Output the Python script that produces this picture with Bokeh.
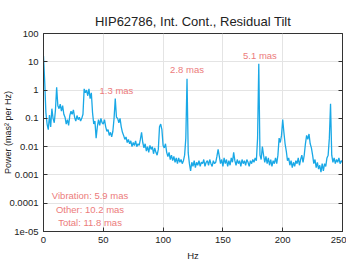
from bokeh.plotting import figure
from bokeh.models import FixedTicker, LogAxis, Range1d, ColumnDataSource
from bokeh.core.properties import value
from bokeh.embed import file_html
from bokeh.resources import INLINE

freq_hz = list(range(0, 251))
power = [
    16, 2.0, 0.16, 0.063, 0.04, 0.13, 0.05, 0.22, 0.1, 0.07,
    0.2, 1.26, 0.28, 0.22, 0.32, 0.18, 0.28, 0.14, 0.11, 0.063,
    0.09, 0.056, 0.126, 0.18, 0.14, 0.2, 0.11, 0.08, 0.126, 0.09,
    0.11, 0.08, 0.1, 0.14, 1.1, 0.8, 1.0, 0.63, 1.1, 0.5,
    0.8, 0.16, 0.063, 0.08, 0.02, 0.05, 0.09, 0.056, 0.1, 0.07,
    0.063, 0.09, 0.05, 0.035, 0.04, 0.025, 0.032, 0.022, 0.035, 0.1,
    0.5, 0.11, 0.1, 0.07, 0.1, 0.05, 0.032, 0.025, 0.018, 0.022,
    0.014, 0.018, 0.0126, 0.016, 0.01, 0.014, 0.011, 0.016, 0.01, 0.0126,
    0.011, 0.018, 0.032, 0.014, 0.009, 0.0126, 0.007, 0.01, 0.0063, 0.011,
    0.008, 0.01, 0.0056, 0.009, 0.0063, 0.005, 0.008, 0.05, 0.063, 0.04,
    0.011, 0.009, 0.0126, 0.0063, 0.0045, 0.0063, 0.0035, 0.005, 0.0032, 0.0045,
    0.0028, 0.004, 0.0025, 0.004, 0.0028, 0.0035, 0.0025, 0.0032, 0.005, 0.02,
    2.5, 0.006, 0.0025, 0.0014, 0.0028, 0.002, 0.0032, 0.0018, 0.0028, 0.0022,
    0.0032, 0.002, 0.0028, 0.0025, 0.0035, 0.002, 0.0028, 0.0032, 0.0022, 0.0035,
    0.0025, 0.002, 0.0032, 0.0025, 0.0028, 0.0045, 0.008, 0.0045, 0.0025, 0.0035,
    0.002, 0.004, 0.0025, 0.0035, 0.002, 0.0032, 0.0022, 0.004, 0.0028, 0.0063,
    0.0032, 0.0022, 0.0035, 0.0025, 0.0032, 0.002, 0.0035, 0.0025, 0.0032, 0.0022,
    0.0035, 0.0028, 0.002, 0.0032, 0.0025, 0.0035, 0.0028, 0.004, 0.0032, 0.02,
    8.5, 0.005, 0.0035, 0.01, 0.005, 0.0028, 0.0045, 0.0025, 0.004, 0.0022,
    0.0035, 0.002, 0.0032, 0.0025, 0.004, 0.0025, 0.005, 0.02, 0.014, 0.025,
    0.09, 0.032, 0.0126, 0.007, 0.0032, 0.004, 0.0022, 0.0032, 0.0018, 0.0028,
    0.002, 0.0032, 0.0025, 0.004, 0.0022, 0.0035, 0.005, 0.0028, 0.005, 0.0126,
    0.025, 0.018, 0.028, 0.0126, 0.009, 0.005, 0.0025, 0.0035, 0.0018, 0.0028,
    0.0016, 0.0022, 0.00126, 0.0025, 0.0014, 0.0025, 0.002, 0.004, 0.005, 0.02,
    0.33, 0.005, 0.0028, 0.004, 0.0025, 0.0035, 0.0028, 0.004, 0.0025, 0.0032,
    0.0028,
]

x_ticks = [0, 50, 100, 150, 200, 250]
y_ticks = [100, 10, 1, 0.1, 0.01, 0.001, 0.0001, 1e-05]
y_tick_labels = ["100", "10", "1", "0.1", "0.01", "0.001", "0.0001", "1e-05"]

peak_freqs = [61, 120, 181]
peak_levels = [1.0, 5.4, 17.0]
peak_labels = ["1.3 mas", "2.8 mas", "5.1 mas"]

summary_freqs = [40, 40, 40]
summary_levels = [1.86e-4, 6.2e-5, 2.0e-5]
summary_labels = ["Vibration:  5.9 mas", "Other:  10.2 mas", "Total:  11.8 mas"]

FONT = "Liberation Sans"
TXT = "#222222"
ANNOT = "#ec7b7b"
LINE = "#19a8e6"
AXC = "#333333"

p = figure(width=346, height=263,
           x_range=Range1d(0, 250), y_range=Range1d(1e-5, 100),
           y_axis_type="log",
           output_backend="svg", toolbar_location=None,
           title="HIP62786, Int. Cont., Residual Tilt",
           min_border_left=30, min_border_right=4,
           min_border_top=33, min_border_bottom=20)

p.background_fill_color = "white"
p.border_fill_color = "white"
p.outline_line_color = AXC
p.outline_line_width = 1

p.title.align = "center"
p.title.text_font = FONT
p.title.text_font_size = "13px"
p.title.text_font_style = "normal"
p.title.text_color = TXT
p.title.standoff = 9

# axes
xa = p.xaxis[0]
xa.ticker = FixedTicker(ticks=x_ticks)
xa.axis_label = "Hz"
ya = p.yaxis[0]
ya.ticker = FixedTicker(ticks=y_ticks)
ya.major_label_overrides = dict(zip(y_ticks, y_tick_labels))
ya.axis_label = "Power (mas\u00b2 per Hz)"

for ax in (xa, ya):
    ax.axis_line_color = AXC
    ax.major_tick_line_color = AXC
    ax.major_tick_in = 4
    ax.major_tick_out = 0
    ax.minor_tick_in = 0
    ax.minor_tick_out = 0
    ax.major_label_text_font = FONT
    ax.major_label_text_font_size = "9.5px"
    ax.major_label_text_color = TXT
    ax.axis_label_text_font = FONT
    ax.axis_label_text_font_size = "9.5px"
    ax.axis_label_text_font_style = "normal"
    ax.axis_label_text_color = TXT

ya.axis_label_text_font_size = "9px"
xa.major_label_standoff = 5
xa.axis_label_standoff = 4
ya.major_label_standoff = 5
ya.axis_label_standoff = -7

right = LogAxis(ticker=FixedTicker(ticks=y_ticks))
right.major_label_overrides = {t: "" for t in y_ticks}
right.major_label_standoff = 0
right.major_tick_in = 4
right.major_tick_out = 0
right.minor_tick_in = 0
right.minor_tick_out = 0
right.major_tick_line_color = AXC
right.axis_line_color = AXC
p.add_layout(right, "right")

p.xgrid.ticker = FixedTicker(ticks=x_ticks)
p.ygrid.ticker = FixedTicker(ticks=y_ticks)
p.xgrid.grid_line_color = "#e4e4e4"
p.ygrid.grid_line_color = "#e4e4e4"

src = ColumnDataSource(dict(f=freq_hz, pw=power))
p.line("f", "pw", source=src, line_color=LINE, line_width=1.3)

peak_src = ColumnDataSource(dict(x=peak_freqs, y=peak_levels, t=peak_labels))
p.text("x", "y", text="t", source=peak_src, text_align="center",
       text_baseline="middle", text_color=ANNOT,
       text_font=value(FONT), text_font_size="9.5px")

sum_src = ColumnDataSource(dict(x=summary_freqs, y=summary_levels, t=summary_labels))
p.text("x", "y", text="t", source=sum_src, text_align="center",
       text_baseline="middle", text_color=ANNOT,
       text_font=value(FONT), text_font_size="9.5px")

open("out.html", "w").write(file_html(p, INLINE))
